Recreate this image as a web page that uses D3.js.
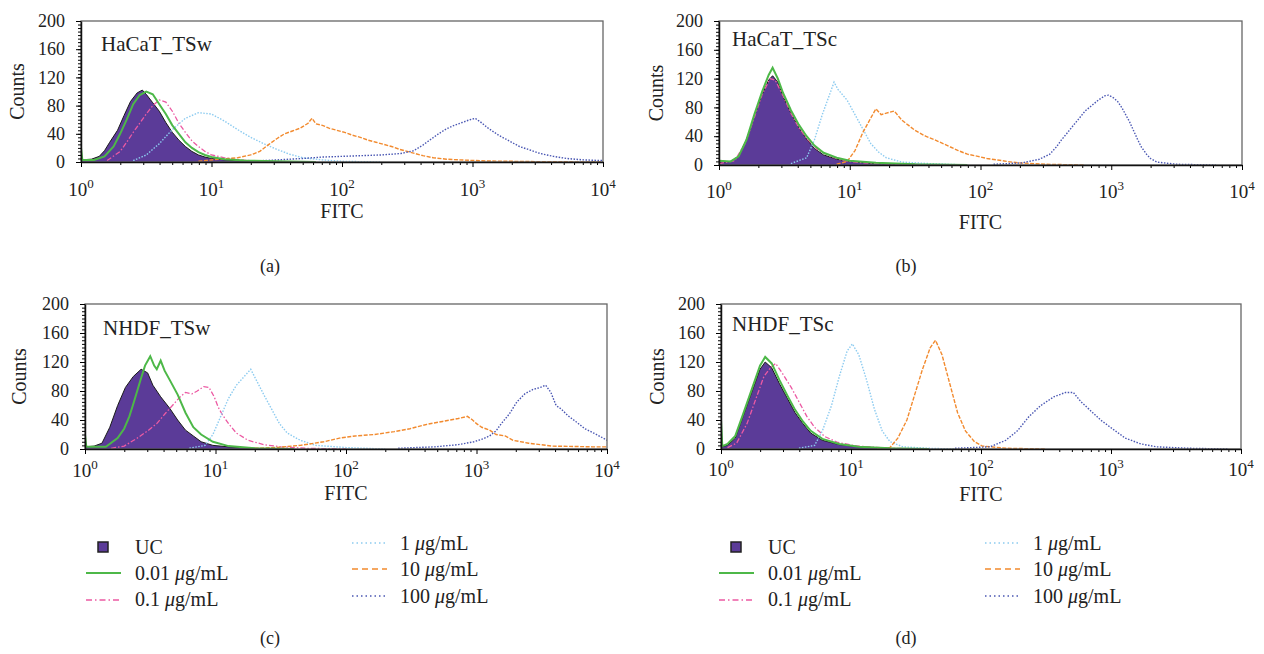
<!DOCTYPE html>
<html>
<head>
<meta charset="utf-8">
<script src="https://cdn.jsdelivr.net/npm/d3@7"></script>
<style>
  body { margin: 0; background: #fff; }
  svg text { font-family: "Liberation Serif", "DejaVu Serif", serif; fill: #222; }
</style>
</head>
<body>
<svg id="chart" width="1264" height="654"></svg>
<script>
// each series: [log10(FITC), counts]

/* (a) HaCaT_TSw */
const aUC = [[0,3],[0.08,4],[0.14,8],[0.18,16],[0.22,28],[0.28,45],[0.33,66],[0.38,86],[0.43,98],[0.47,102],[0.5,96],[0.55,84],[0.6,72],[0.65,56],[0.7,42],[0.75,31],[0.8,22],[0.85,15],[0.9,10],[0.95,7],[1.0,5],[1.1,3],[1.2,1.5],[1.4,0.5],[1.6,0]]
const aC001 = [[0,20],[0.01,3],[0.1,3],[0.18,8],[0.25,22],[0.3,40],[0.35,60],[0.4,82],[0.45,95],[0.5,100],[0.55,96],[0.6,82],[0.65,68],[0.7,52],[0.75,40],[0.8,28],[0.85,20],[0.9,14],[0.95,10],[1.0,7],[1.1,4],[1.25,2],[1.5,1],[1.8,0]]
const aC01 = [[0.2,2],[0.3,15],[0.35,28],[0.4,42],[0.45,55],[0.5,68],[0.55,80],[0.6,88],[0.65,85],[0.7,72],[0.75,55],[0.8,42],[0.85,30],[0.9,22],[0.95,15],[1.0,10],[1.1,6],[1.2,3],[1.4,1],[1.6,0]]
const aC1 = [[0.4,2],[0.5,10],[0.6,26],[0.7,46],[0.8,62],[0.9,70],[1.0,68],[1.1,58],[1.2,46],[1.3,35],[1.4,26],[1.5,18],[1.6,11],[1.7,6],[1.85,3],[2.0,1],[2.3,0]]
const aC10 = [[0.9,1],[1.05,4],[1.2,6],[1.3,10],[1.37,15],[1.44,25],[1.5,33],[1.56,40],[1.62,44],[1.68,48],[1.74,55],[1.77,62],[1.8,54],[1.85,52],[1.9,48],[1.96,45],[2.02,42],[2.08,38],[2.14,35],[2.2,31],[2.26,28],[2.32,25],[2.38,22],[2.44,18],[2.5,15],[2.56,12],[2.62,9],[2.7,6],[2.8,4],[2.9,3],[3.1,1.5],[3.5,0.5],[4,0]]
const aC100 = [[1.3,1],[1.5,3],[1.7,5],[1.85,7],[2.0,8],[2.15,9],[2.3,10],[2.45,12],[2.55,16],[2.62,24],[2.68,32],[2.74,40],[2.8,47],[2.86,52],[2.92,56],[2.98,60],[3.02,62],[3.06,57],[3.12,48],[3.2,38],[3.28,30],[3.36,22],[3.44,17],[3.52,12],[3.62,8],[3.72,5],[3.85,3],[4,2]]

/* (b) HaCaT_TSc */
const bUC = [[0,4],[0.09,5],[0.15,12],[0.21,35],[0.27,68],[0.33,98],[0.38,118],[0.41,124],[0.45,115],[0.49,95],[0.55,72],[0.61,52],[0.67,36],[0.73,23],[0.8,14],[0.9,8],[1.0,5],[1.2,2],[1.5,1],[1.8,0]]
const bC001 = [[0,6],[0.09,5],[0.15,12],[0.21,35],[0.27,70],[0.33,102],[0.38,125],[0.41,135],[0.45,120],[0.49,100],[0.55,76],[0.61,56],[0.67,40],[0.73,27],[0.8,17],[0.9,10],[1.0,6],[1.2,3],[1.5,1],[1.9,0]]
const bC01 = [[0,2],[0.12,6],[0.2,30],[0.27,66],[0.33,98],[0.39,120],[0.43,118],[0.49,96],[0.55,72],[0.61,52],[0.67,37],[0.75,22],[0.85,12],[0.95,6],[1.1,3],[1.4,1],[1.7,0]]
const bC1 = [[0.55,2],[0.67,10],[0.73,35],[0.79,70],[0.85,100],[0.88,115],[0.91,105],[0.98,90],[1.04,70],[1.1,50],[1.16,30],[1.22,18],[1.28,10],[1.4,4],[1.6,2],[1.9,0]]
const bC10 = [[0.9,1],[0.98,5],[1.04,20],[1.1,45],[1.16,65],[1.2,78],[1.24,70],[1.28,72],[1.34,75],[1.4,62],[1.45,55],[1.5,48],[1.58,40],[1.65,35],[1.71,30],[1.77,25],[1.83,20],[1.9,15],[1.98,12],[2.05,9],[2.13,7],[2.2,5],[2.29,3],[2.5,1],[2.8,0]]
const bC100 = [[2.1,1],[2.32,3],[2.45,8],[2.53,15],[2.58,25],[2.62,35],[2.67,46],[2.71,55],[2.76,66],[2.8,75],[2.86,84],[2.9,90],[2.95,96],[2.98,97],[3.02,93],[3.05,88],[3.08,80],[3.11,70],[3.14,60],[3.17,48],[3.2,36],[3.23,25],[3.27,15],[3.3,9],[3.35,4],[3.5,1],[3.8,0]]

/* (c) NHDF_TSw */
const cUC = [[0,3],[0.07,4],[0.13,8],[0.19,30],[0.25,60],[0.31,85],[0.37,100],[0.43,110],[0.48,105],[0.52,88],[0.58,72],[0.65,56],[0.71,40],[0.77,26],[0.83,18],[0.89,10],[0.98,5],[1.1,3],[1.3,1],[1.5,0]]
const cC001 = [[0,20],[0.01,3],[0.16,3],[0.25,15],[0.3,28],[0.34,45],[0.37,62],[0.4,80],[0.43,98],[0.46,115],[0.5,128],[0.53,115],[0.55,110],[0.58,122],[0.61,108],[0.65,95],[0.71,75],[0.77,50],[0.83,30],[0.89,20],[0.98,10],[1.1,4],[1.3,1],[1.6,0]]
const cC01 = [[0.2,1],[0.3,4],[0.4,15],[0.48,25],[0.55,35],[0.62,50],[0.68,62],[0.73,72],[0.77,78],[0.82,76],[0.86,80],[0.91,86],[0.95,85],[0.99,72],[1.02,58],[1.05,48],[1.1,35],[1.16,22],[1.25,12],[1.37,6],[1.5,3],[1.7,1],[2.0,0]]
const cC1 = [[0.8,1],[0.92,5],[0.98,20],[1.04,45],[1.1,70],[1.16,88],[1.22,100],[1.27,110],[1.31,96],[1.37,75],[1.43,55],[1.49,35],[1.55,22],[1.65,12],[1.77,5],[2.0,2],[2.3,0]]
const cC10 = [[1.3,1],[1.46,2],[1.65,5],[1.83,10],[1.95,15],[2.07,18],[2.22,20],[2.37,24],[2.49,28],[2.62,34],[2.74,38],[2.86,42],[2.93,45],[2.97,40],[3.0,35],[3.04,30],[3.1,26],[3.15,20],[3.22,18],[3.28,12],[3.4,8],[3.58,4],[3.89,3],[4,3]]
const cC100 = [[2.4,1],[2.68,3],[2.86,6],[2.98,10],[3.05,14],[3.1,18],[3.15,25],[3.19,35],[3.25,48],[3.31,65],[3.37,76],[3.43,82],[3.49,85],[3.53,88],[3.57,78],[3.61,60],[3.65,55],[3.7,46],[3.76,38],[3.83,28],[3.92,20],[4.0,12]]

/* (d) NHDF_TSc */
const dUC = [[0,3],[0.05,5],[0.11,15],[0.17,45],[0.24,80],[0.3,110],[0.34,120],[0.39,112],[0.45,90],[0.51,70],[0.57,50],[0.63,35],[0.69,22],[0.78,12],[0.91,6],[1.06,3],[1.3,1],[1.5,0]]
const dC001 = [[0,40],[0.01,4],[0.05,7],[0.11,18],[0.17,48],[0.24,84],[0.3,115],[0.34,127],[0.39,118],[0.45,95],[0.51,74],[0.57,54],[0.63,38],[0.69,25],[0.78,14],[0.91,7],[1.06,3],[1.3,1],[1.6,0]]
const dC01 = [[0.05,2],[0.12,8],[0.2,35],[0.27,70],[0.33,100],[0.38,112],[0.42,118],[0.47,105],[0.54,85],[0.6,65],[0.66,45],[0.72,30],[0.8,17],[0.9,9],[1.05,4],[1.3,1],[1.6,0]]
const dC1 = [[0.6,1],[0.72,5],[0.78,25],[0.85,60],[0.91,100],[0.97,135],[1.01,145],[1.06,130],[1.12,95],[1.18,55],[1.24,25],[1.3,10],[1.4,3],[1.6,1],[1.8,0]]
const dC10 = [[1.2,1],[1.3,2],[1.36,15],[1.43,40],[1.49,75],[1.55,110],[1.61,140],[1.65,150],[1.7,130],[1.76,90],[1.82,50],[1.88,25],[1.95,10],[2.01,4],[2.2,1],[2.5,0]]
const dC100 = [[1.8,1],[2.07,3],[2.19,12],[2.28,25],[2.37,45],[2.46,60],[2.56,72],[2.65,78],[2.71,78],[2.77,65],[2.83,55],[2.92,40],[3.01,28],[3.11,15],[3.23,7],[3.35,3],[3.6,1],[3.9,0]]

const panelNames = ["HaCaT_TSw", "HaCaT_TSc", "NHDF_TSw", "NHDF_TSc"]
const panelLetters = ["(a)", "(b)", "(c)", "(d)"]
const yTicks = [0, 40, 80, 120, 160, 200]
const xDecades = [0, 1, 2, 3, 4]
const legendLabels = ["UC", "0.01", "0.1", "1", "10", "100"]

// draw order
const SERIES = ["UC", "C01", "C1", "C10", "C100", "C001"]
const STYLE = {
    UC:   { fill: "#5b3b98", stroke: "#1a1a1a", width: 1 },
    C001: { stroke: "#4db848", width: 2, dash: null, legendDash: null },
    C01:  { stroke: "#ec5aa3", width: 1.3, dash: "5,2,1.5,2", legendDash: "6,3,1.5,3" },
    C1:   { stroke: "#8ccbf0", width: 1.4, dash: "1.5,1.5", legendDash: "1.5,3" },
    C10:  { stroke: "#f28a2e", width: 1.4, dash: "4,1.5", legendDash: "6,4" },
    C100: { stroke: "#4a57b3", width: 1.4, dash: "1.5,1.5", legendDash: "1.5,3" },
}

const panels = [
    { name: panelNames[0], letter: panelLetters[0], x0: 81, x1: 603, yt: 21, yb: 162, tickBase: 196, fitcBase: 218, countsX: 18, titleX: 101, titleY: 51, capX: 270, capY: 272,
      data: { UC: aUC, C001: aC001, C01: aC01, C1: aC1, C10: aC10, C100: aC100 } },
    { name: panelNames[1], letter: panelLetters[1], x0: 719, x1: 1242, yt: 21, yb: 165, tickBase: 198, fitcBase: 229, countsX: 657, titleX: 732, titleY: 46, capX: 906, capY: 272,
      data: { UC: bUC, C001: bC001, C01: bC01, C1: bC1, C10: bC10, C100: bC100 } },
    { name: panelNames[2], letter: panelLetters[2], x0: 85, x1: 607, yt: 304, yb: 449, tickBase: 477, fitcBase: 500, countsX: 20, titleX: 103, titleY: 335, capX: 270, capY: 644,
      data: { UC: cUC, C001: cC001, C01: cC01, C1: cC1, C10: cC10, C100: cC100 } },
    { name: panelNames[3], letter: panelLetters[3], x0: 721, x1: 1241, yt: 304, yb: 449, tickBase: 476, fitcBase: 501, countsX: 658, titleX: 732, titleY: 331, capX: 906, capY: 644,
      data: { UC: dUC, C001: dC001, C01: dC01, C1: dC1, C10: dC10, C100: dC100 } },
]

const svg = d3.select("#chart")

function drawPanel(p, idx) {
    const x = d3.scaleLog().domain([1, 1e4]).range([p.x0, p.x1])
    const y = d3.scaleLinear().domain([0, 200]).range([p.yb, p.yt])
    const g = svg.append("g")

    g.append("clipPath").attr("id", "clip" + idx)
        .append("rect").attr("x", p.x0).attr("y", p.yt).attr("width", p.x1 - p.x0).attr("height", p.yb - p.yt)

    const plot = g.append("g").attr("clip-path", "url(#clip" + idx + ")")

    const line = d3.line().x(d => x(Math.pow(10, d[0]))).y(d => y(d[1]))
    const area = d3.area().x(d => x(Math.pow(10, d[0]))).y0(y(0)).y1(d => y(d[1]))

    SERIES.forEach(key => {
        const s = STYLE[key]
        const pts = p.data[key]
        if (key === "UC") {
            plot.append("path").attr("d", area(pts)).attr("fill", s.fill).attr("stroke", "none")
            plot.append("path").attr("d", line(pts)).attr("fill", "none")
                .attr("stroke", s.stroke).attr("stroke-width", s.width)
        } else {
            plot.append("path").attr("d", line(pts)).attr("fill", "none")
                .attr("stroke", s.stroke).attr("stroke-width", s.width)
                .attr("stroke-dasharray", s.dash)
        }
    })

    // frame
    g.append("rect").attr("x", p.x0).attr("y", p.yt).attr("width", p.x1 - p.x0).attr("height", p.yb - p.yt)
        .attr("fill", "none").attr("stroke", "#666").attr("stroke-width", 1.3)

    // y axis
    const yMinor = g.append("g").attr("transform", `translate(${p.x0},0)`)
        .call(d3.axisLeft(y).tickValues(d3.range(0, 201, 5)).tickSize(3).tickFormat(""))
    yMinor.select(".domain").remove()
    const yAx = g.append("g").attr("transform", `translate(${p.x0},0)`)
        .call(d3.axisLeft(y).tickValues(yTicks).tickSize(5).tickPadding(11).tickSizeOuter(0))
    yAx.selectAll("text").style("font-family", "Liberation Serif").style("font-size", "18px").attr("fill", "#222")
    yAx.select(".domain").attr("stroke", "#111").attr("stroke-width", 1.5)

    // x axis
    const minorVals = []
    for (let e = 0; e < 4; e++) for (let m = 2; m < 10; m++) minorVals.push(m * Math.pow(10, e))
    const xMinor = g.append("g").attr("transform", `translate(0,${p.yb})`)
        .call(d3.axisBottom(x).tickValues(minorVals).tickSize(3).tickFormat(""))
    xMinor.select(".domain").remove()
    const xAx = g.append("g").attr("transform", `translate(0,${p.yb})`)
        .call(d3.axisBottom(x).tickValues(xDecades.map(e => Math.pow(10, e))).tickSize(5).tickFormat("").tickSizeOuter(0))
    xAx.select(".domain").attr("stroke", "#111").attr("stroke-width", 1.5)

    xDecades.forEach(e => {
        const t = g.append("text").attr("x", x(Math.pow(10, e))).attr("y", p.tickBase)
            .attr("text-anchor", "middle").style("font-size", "19px")
        t.append("tspan").text("10")
        t.append("tspan").attr("dy", -8).style("font-size", "13px").text(e)
    })

    g.append("text").attr("x", (p.x0 + p.x1) / 2).attr("y", p.fitcBase)
        .attr("text-anchor", "middle").style("font-size", "20px").text("FITC")
    g.append("text").attr("transform", `translate(${p.countsX + 6},${(p.yt + p.yb) / 2}) rotate(-90)`)
        .attr("text-anchor", "middle").style("font-size", "20px").text("Counts")
    g.append("text").attr("x", p.titleX).attr("y", p.titleY).style("font-size", "21px").text(p.name)
    g.append("text").attr("x", p.capX).attr("y", p.capY).attr("text-anchor", "middle")
        .style("font-size", "18px").text(p.letter)
}

panels.forEach(drawPanel)

function drawLegend(dx) {
    const g = svg.append("g").attr("transform", `translate(${dx},0)`)
    const rows = [
        { key: "UC",   lx: 86,  tx: 135, ty: 554, ly: 547, label: legendLabels[0] },
        { key: "C001", lx: 86,  tx: 135, ty: 580, ly: 573, label: legendLabels[1] },
        { key: "C01",  lx: 86,  tx: 135, ty: 606, ly: 600, label: legendLabels[2] },
        { key: "C1",   lx: 352, tx: 400, ty: 550, ly: 543, label: legendLabels[3] },
        { key: "C10",  lx: 352, tx: 400, ty: 576, ly: 569, label: legendLabels[4] },
        { key: "C100", lx: 352, tx: 400, ty: 603, ly: 596, label: legendLabels[5] },
    ]
    rows.forEach(r => {
        const s = STYLE[r.key]
        if (r.key === "UC") {
            g.append("rect").attr("x", r.lx + 12).attr("y", r.ly - 5).attr("width", 10).attr("height", 10)
                .attr("fill", s.fill).attr("stroke", "#222").attr("stroke-width", 1.5)
        } else {
            g.append("line").attr("x1", r.lx).attr("x2", r.lx + 35).attr("y1", r.ly).attr("y2", r.ly)
                .attr("stroke", s.stroke).attr("stroke-width", r.key === "C001" ? 2 : 1.5)
                .attr("stroke-dasharray", s.legendDash)
        }
        const t = g.append("text").attr("x", r.tx).attr("y", r.ty).style("font-size", "20px")
        if (r.key === "UC") {
            t.text(r.label)
        } else {
            t.append("tspan").text(r.label + " ")
            t.append("tspan").style("font-style", "italic").text("\u03bc")
            t.append("tspan").text("g/mL")
        }
    })
}

drawLegend(0)
drawLegend(633)
</script>
</body>
</html>
